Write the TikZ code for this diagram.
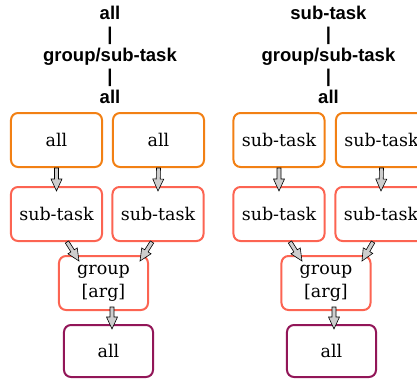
\documentclass[tikz,border=0pt]{standalone}
\usepackage{fontspec}
\usetikzlibrary{calc}
\newfontfamily\hdrfont{Liberation Sans}
\newfontfamily\boxfont{DejaVu Serif}
\definecolor{orangeB}{RGB}{242,128,20}
\definecolor{coralB}{RGB}{252,100,82}
\definecolor{plumB}{RGB}{146,22,88}
\definecolor{arrowgray}{RGB}{205,205,205}
\tikzset{
  header/.style={inner sep=0pt, align=center, anchor=north,
    font=\hdrfont\bfseries\fontsize{18.5bp}{21bp}\selectfont},
  taskbox/.style={draw, line width=2bp, rounded corners=7bp, fill=white,
    minimum width=91bp, minimum height=54bp, inner sep=0pt, align=center,
    font=\boxfont\fontsize{17.5bp}{23bp}\selectfont},
  lvlone/.style={taskbox, draw=orangeB},
  lvltwo/.style={taskbox, draw=coralB},
  grpbox/.style={taskbox, draw=coralB, minimum width=89bp},
  lvlthree/.style={taskbox, draw=plumB, minimum width=89bp, minimum height=52bp},
  blockarrow/.style={draw=black, fill=arrowgray, line width=0.6bp, line join=miter,
    to path={let \p1=(\tikztostart), \p2=(\tikztotarget),
      \n1={atan2(\y2-\y1,\x2-\x1)}, \n2={\n1+90}, \n3={\n1-90},
      \p3=($(\p2)+(\n1:-12bp)$) in
      ($(\p1)+(\n2:2bp)$) -- ($(\p3)+(\n2:2bp)$) -- ($(\p3)+(\n2:5.5bp)$) -- (\p2)
      -- ($(\p3)+(\n3:5.5bp)$) -- ($(\p3)+(\n3:2bp)$) -- ($(\p1)+(\n3:2bp)$) -- cycle}}
}
\begin{document}
\begin{tikzpicture}[x=1bp,y=-1bp]
\useasboundingbox (0,0) rectangle (417,381);
% left column
\node[header] (lh) at (110,6) {all\\|\\group/sub-task\\|\\all};
\node[lvlone] (la1) at (56.5,140) {all};
\node[lvlone] (la2) at (158.5,140) {all};
\node[lvltwo] (ls1) at (56.5,214) {sub-task};
\node[lvltwo] (ls2) at (158,214) {sub-task};
\node[grpbox] (lg) at (103.5,283) {group\\{}[arg]};
\node[lvlthree] (lz) at (108.5,351) {all};
\draw[blockarrow] (la1.south) to ([yshift=-5bp]ls1.north);
\draw[blockarrow] (la2.south) to ([yshift=-5bp]ls2.north);
\draw[blockarrow] ([xshift=10.5bp]ls1.south) to ([xshift=-24.5bp,yshift=-6bp]lg.north);
\draw[blockarrow] ([xshift=-6bp]ls2.south) to ([xshift=36.5bp,yshift=-6bp]lg.north);
\draw[blockarrow] ([xshift=8.5bp,yshift=4bp]lg.south) to ([xshift=3.5bp,yshift=-5bp]lz.north);
% right column
\node[header] (rh) at (328.5,6) {sub-task\\|\\group/sub-task\\|\\all};
\node[lvlone] (ra1) at (279,140) {sub-task};
\node[lvlone] (ra2) at (381.5,140) {sub-task};
\node[lvltwo] (rs1) at (279,214) {sub-task};
\node[lvltwo] (rs2) at (381,214) {sub-task};
\node[grpbox] (rg) at (326,283) {group\\{}[arg]};
\node[lvlthree] (rz) at (331.5,351) {all};
\draw[blockarrow] (ra1.south) to ([yshift=-5bp]rs1.north);
\draw[blockarrow] (ra2.south) to ([yshift=-5bp]rs2.north);
\draw[blockarrow] ([xshift=11bp]rs1.south) to ([xshift=-24bp,yshift=-6bp]rg.north);
\draw[blockarrow] ([xshift=-8bp]rs2.south) to ([xshift=36bp,yshift=-6bp]rg.north);
\draw[blockarrow] ([xshift=8bp,yshift=4bp]rg.south) to ([xshift=2.5bp,yshift=-5bp]rz.north);
\end{tikzpicture}
\end{document}
